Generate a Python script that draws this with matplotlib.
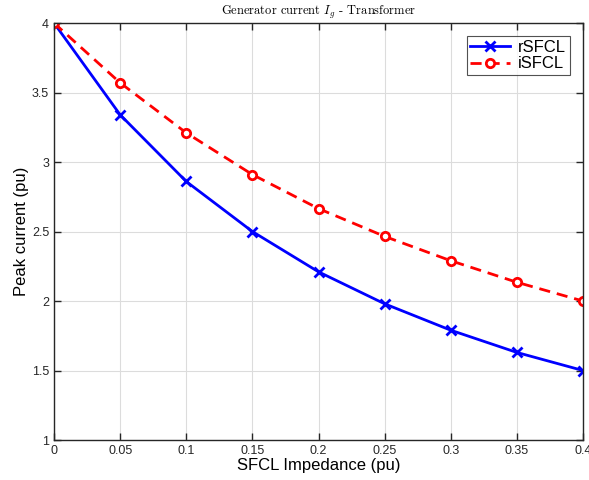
import numpy as np
import matplotlib
matplotlib.use("Agg")
import matplotlib.pyplot as plt

# SFCL impedance sweep and peak generator current
impedance = [0, 0.05, 0.1, 0.15, 0.2, 0.25, 0.3, 0.35, 0.4]
r_sfcl = [4.0, 3.34, 2.86, 2.50, 2.21, 1.98, 1.79, 1.63, 1.50]
i_sfcl = [4.0, 3.57, 3.21, 2.91, 2.665, 2.465, 2.29, 2.135, 2.0]

xticks = [0, 0.05, 0.1, 0.15, 0.2, 0.25, 0.3, 0.35, 0.4]
xticklabels = ["0", "0.05", "0.1", "0.15", "0.2", "0.25", "0.3", "0.35", "0.4"]
yticks = [1, 1.5, 2, 2.5, 3, 3.5, 4]
yticklabels = ["1", "1.5", "2", "2.5", "3", "3.5", "4"]

plt.rcParams['font.family'] = ['Liberation Sans', 'DejaVu Sans']
plt.rcParams['mathtext.fontset'] = 'cm'

fig = plt.figure(figsize=(5.89, 4.8), dpi=100)
ax = fig.add_axes([0.0917, 0.0833, 0.8981, 0.8687])

ax.plot(impedance, r_sfcl, color='#0000ff', linewidth=2, marker='x',
        markersize=7, markeredgewidth=2, label='rSFCL')
ax.plot(impedance, i_sfcl, color='#ff0000', linewidth=2, linestyle=(0, (4, 2.5)),
        marker='o', markersize=6, markeredgewidth=2, markerfacecolor='white',
        label='iSFCL')

ax.set_xlim(0, 0.4)
ax.set_ylim(1, 4)
ax.set_xticks(xticks)
ax.set_xticklabels(xticklabels)
ax.set_yticks(yticks)
ax.set_yticklabels(yticklabels)
ax.tick_params(direction='in', top=True, right=True, labelsize=9, length=5,
               width=1, colors='#262626')
ax.grid(True, color='#dcdcdc', linewidth=0.8)
ax.set_axisbelow(True)
for s in ax.spines.values():
    s.set_color('#262626')
    s.set_linewidth(1)

ax.set_xlabel('SFCL Impedance (pu)', fontsize=12, labelpad=1)
ax.set_ylabel('Peak current (pu)', fontsize=12, labelpad=2)
ax.set_title('Generator current $I_g$ - Transformer', fontsize=9,
             fontfamily='cmr10', pad=6)

leg = ax.legend(loc='upper right', fontsize=12, frameon=True, fancybox=False,
                edgecolor='#262626', handlelength=2.4, borderpad=0.2,
                labelspacing=0.1, handletextpad=0.5, borderaxespad=0.8)
leg.get_frame().set_linewidth(0.8)

fig.savefig('out.png', dpi=100)
